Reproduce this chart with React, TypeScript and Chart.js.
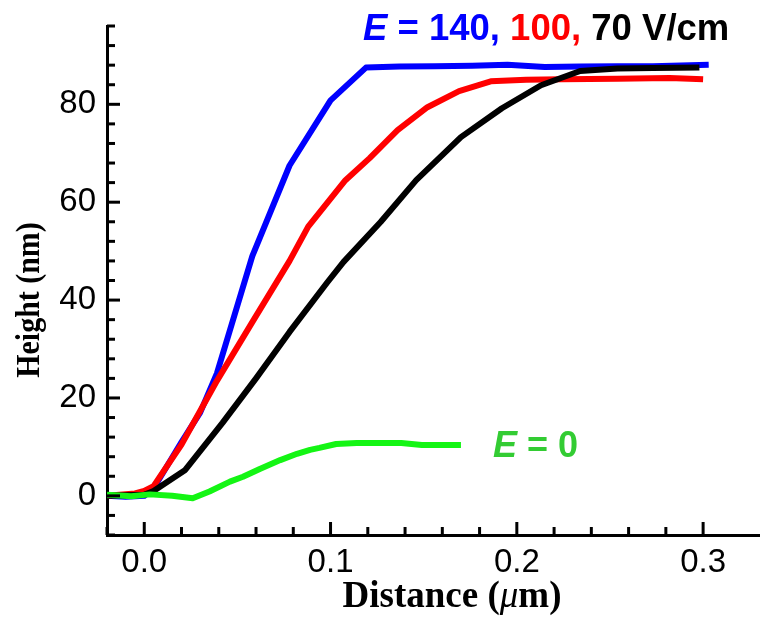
import React, { useEffect, useRef } from 'react';
import { Chart, registerables } from 'chart.js';

Chart.register(...registerables);

// ---- data (Distance in µm, Height in nm) ----
const blueX = [-0.02, -0.01, 0.0, 0.005, 0.02, 0.03, 0.039, 0.058, 0.078, 0.1, 0.119, 0.137, 0.156, 0.176, 0.195, 0.215, 0.234, 0.254, 0.273, 0.293, 0.303];
const blueY = [0, -0.2, 0, 1.5, 11, 17, 25, 49, 67.5, 80.8, 87.5, 87.7, 87.8, 87.9, 88.1, 87.6, 87.7, 87.8, 87.8, 88.0, 88.1];

const redX = [-0.02, -0.005, 0.0, 0.005, 0.02, 0.039, 0.058, 0.078, 0.088, 0.108, 0.121, 0.136, 0.152, 0.169, 0.186, 0.205, 0.224, 0.254, 0.282, 0.3];
const redY = [0, 0.5, 1.0, 2, 10.5, 23.5, 35.5, 48, 55, 64.5, 69, 74.7, 79.4, 82.7, 84.7, 85.0, 85.1, 85.2, 85.4, 85.1];

const blackX = [-0.02, 0.0, 0.005, 0.022, 0.042, 0.06, 0.078, 0.098, 0.107, 0.127, 0.146, 0.17, 0.192, 0.213, 0.234, 0.254, 0.273, 0.298];
const blackY = [0, 0.2, 1, 5.3, 14.9, 24, 33.5, 43.5, 47.8, 56, 64.5, 73.3, 79.2, 83.9, 86.8, 87.3, 87.4, 87.5];

const greenX = [-0.02, -0.007, 0.003, 0.015, 0.026, 0.035, 0.046, 0.053, 0.062, 0.073, 0.082, 0.089, 0.094, 0.103, 0.114, 0.138, 0.149, 0.16, 0.17];
const greenY = [0.2, -0.1, 0.3, 0, -0.5, 0.9, 2.9, 3.9, 5.5, 7.3, 8.6, 9.4, 9.8, 10.6, 10.8, 10.8, 10.4, 10.4, 10.4];

const xMin = -0.02;
const xMax = 0.33;
const xStep = 0.02;
const xLabelValues = [0.0, 0.1, 0.2, 0.3];

const yMin = -8;
const yMax = 96;
const yStep = 4;
const yLabelValues = [0, 20, 40, 60, 80];

const COLORS = { blue: '#0000ff', red: '#ff0000', black: '#000000', green: '#14f514', greenText: '#33cc33' };

function pts(xs: number[], ys: number[]) {
  return xs.map((x, i) => ({ x, y: ys[i] }));
}

const near = (a: number, b: number) => Math.abs(a - b) < 1e-6;
const isMult = (v: number, step: number) => Math.abs(v / step - Math.round(v / step)) < 1e-6;

export default function App() {
  const ref = useRef<HTMLCanvasElement>(null);

  useEffect(() => {
    if (!ref.current) return;

    const tickPlugin = {
      id: 'inwardTicks',
      afterDatasetsDraw(chart: any) {
        const { ctx, chartArea, scales } = chart;
        ctx.save();
        ctx.strokeStyle = '#000';
        ctx.lineWidth = 3;
        ctx.lineCap = 'butt';
        const xs = scales.x;
        xs.ticks.forEach((t: any) => {
          if (!isMult(t.value, xStep)) return;
          const major = xLabelValues.some((v) => near(v, t.value));
          const px = xs.getPixelForValue(t.value);
          ctx.beginPath();
          ctx.moveTo(px, chartArea.bottom);
          ctx.lineTo(px, chartArea.bottom - (major ? 13 : 8));
          ctx.stroke();
        });
        const ys = scales.y;
        ys.ticks.forEach((t: any) => {
          if (!isMult(t.value, yStep)) return;
          const major = yLabelValues.some((v) => near(v, t.value));
          const py = ys.getPixelForValue(t.value);
          ctx.beginPath();
          ctx.moveTo(chartArea.left, py);
          ctx.lineTo(chartArea.left + (major ? 13 : 8), py);
          ctx.stroke();
        });
        ctx.restore();
      },
    };

    const textPlugin = {
      id: 'texts',
      afterDraw(chart: any) {
        const ctx = chart.ctx as CanvasRenderingContext2D;
        ctx.save();
        ctx.textBaseline = 'alphabetic';
        ctx.textAlign = 'left';

        const runs = (x: number, y: number, parts: { t: string; font: string; color: string }[]) => {
          let cx = x;
          parts.forEach((p) => {
            ctx.font = p.font;
            ctx.fillStyle = p.color;
            ctx.fillText(p.t, cx, y);
            cx += ctx.measureText(p.t).width;
          });
        };
        const sansB = 'bold 36.5px "Liberation Sans", Arial, sans-serif';
        const sansBI = 'italic bold 36.5px "Liberation Sans", Arial, sans-serif';

        runs(363, 40, [
          { t: 'E', font: sansBI, color: COLORS.blue },
          { t: ' = 140,', font: sansB, color: COLORS.blue },
          { t: ' 100,', font: sansB, color: COLORS.red },
          { t: ' 70 V/cm', font: sansB, color: COLORS.black },
        ]);

        const sansB2 = 'bold 36px "Liberation Sans", Arial, sans-serif';
        const sansBI2 = 'italic bold 36px "Liberation Sans", Arial, sans-serif';
        runs(493, 457, [
          { t: 'E', font: sansBI2, color: COLORS.greenText },
          { t: ' = 0', font: sansB2, color: COLORS.greenText },
        ]);

        // x-axis title
        const serifB = 'bold 37px "Liberation Serif", "Times New Roman", serif';
        const serifI = 'italic 37px "Liberation Serif", "Times New Roman", serif';
        const xParts = [
          { t: 'Distance (', font: serifB, color: '#000' },
          { t: '\u03bc', font: serifI, color: '#000' },
          { t: 'm)', font: serifB, color: '#000' },
        ];
        let total = 0;
        xParts.forEach((p) => {
          ctx.font = p.font;
          total += ctx.measureText(p.t).width;
        });
        runs(452 - total / 2, 607, xParts);

        // y-axis title
        ctx.save();
        ctx.translate(38.5, 300);
        ctx.rotate(-Math.PI / 2);
        ctx.scale(0.88, 1);
        ctx.font = 'bold 34px "Liberation Serif", "Times New Roman", serif';
        ctx.fillStyle = '#000';
        ctx.textAlign = 'center';
        ctx.fillText('Height (nm)', 0, 0);
        ctx.restore();

        ctx.restore();
      },
    };

    const lineDs = (data: any, color: string) => ({
      data,
      borderColor: color,
      backgroundColor: color,
      borderWidth: 6,
      pointRadius: 0,
      tension: 0,
      fill: false,
      borderJoinStyle: 'round' as const,
      borderCapStyle: 'butt' as const,
    });

    const tickFontX = { family: '"Liberation Sans", Arial, sans-serif', size: 33 };
    const tickFontY = { family: '"Liberation Sans", Arial, sans-serif', size: 33, lineHeight: 0.8 };

    const chart = new Chart(ref.current, {
      type: 'line',
      data: {
        datasets: [
          lineDs(pts(greenX, greenY), COLORS.green),
          lineDs(pts(blackX, blackY), COLORS.black),
          lineDs(pts(redX, redY), COLORS.red),
          lineDs(pts(blueX, blueY), COLORS.blue),
        ],
      },
      options: {
        responsive: false,
        animation: false,
        devicePixelRatio: 1,
        layout: { padding: { left: 0, top: 26, right: 5, bottom: 0 } },
        plugins: { legend: { display: false }, title: { display: false }, tooltip: { enabled: false } },
        scales: {
          x: {
            type: 'linear',
            min: xMin,
            max: xMax,
            grid: { display: false, drawTicks: false },
            border: { display: true, width: 3, color: '#000' },
            ticks: {
              stepSize: xStep,
              autoSkip: false,
              maxRotation: 0,
              padding: 8,
              color: '#000',
              font: tickFontX,
              callback: (v: any) => {
                const val = Number(v);
                const m = xLabelValues.find((lv) => near(lv, val));
                return m === undefined ? '' : m.toFixed(1);
              },
            },
            afterFit: (s: any) => {
              s.height = 83;
            },
          },
          y: {
            type: 'linear',
            min: yMin,
            max: yMax,
            grid: { display: false, drawTicks: false },
            border: { display: true, width: 3, color: '#000' },
            ticks: {
              stepSize: yStep,
              autoSkip: false,
              padding: 11,
              color: '#000',
              font: tickFontY,
              callback: (v: any) => {
                const val = Number(v);
                const m = yLabelValues.find((lv) => near(lv, val));
                return m === undefined ? '' : String(m);
              },
            },
            afterFit: (s: any) => {
              s.width = 107;
            },
          },
        },
      },
      plugins: [tickPlugin, textPlugin],
    });

    return () => chart.destroy();
  }, []);

  return (
    <div style={{ position: 'fixed', left: 0, top: 0, width: 767, height: 618, background: '#fff' }}>
      <canvas ref={ref} width={767} height={618} style={{ display: 'block' }} />
    </div>
  );
}
